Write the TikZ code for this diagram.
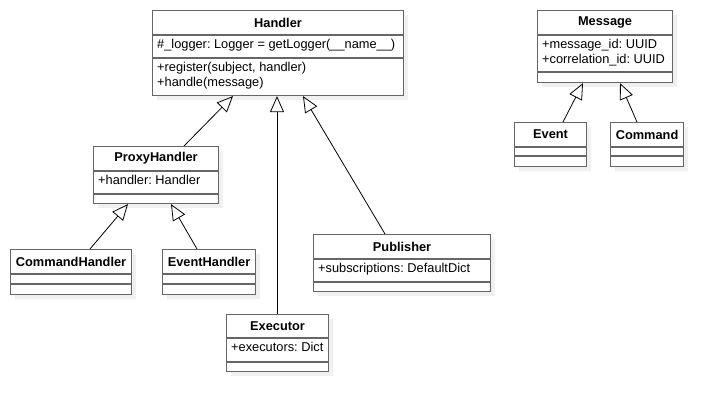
\documentclass[tikz,border=0pt]{standalone}
\usepackage{fontspec}
\setmainfont{Liberation Sans}
\usetikzlibrary{arrows.meta,shadows}
\frenchspacing
\newcommand\classbox[7]{% name, x, y, w, h, sep1, sep2
  \node[cls, minimum width=#4pt, minimum height=#5pt, anchor=north west] (#1) at (#2,#3) {};
  \draw[sepline] ([yshift=-#6pt]#1.north west) -- ([yshift=-#6pt]#1.north east);
  \draw[sepline] ([yshift=-#7pt]#1.north west) -- ([yshift=-#7pt]#1.north east);
}
\begin{document}
\begin{tikzpicture}[x=1pt,y=-1pt,
  cls/.style={draw=black!60, line width=1.1pt, fill=white, inner sep=0pt,
    drop shadow={shadow xshift=4pt, shadow yshift=-4pt, fill=black!6, opacity=1}},
  sepline/.style={draw=black!60, line width=1.1pt},
  ttl/.style={font=\fontsize{12.8}{15}\selectfont\bfseries\frenchspacing, inner sep=0pt},
  attr/.style={font=\fontsize{12.8}{15}\selectfont\frenchspacing, inner sep=0pt, align=left, anchor=north west},
  inh/.style={draw=black, line width=0.8pt, -{Triangle[open, length=16pt, width=14pt, line width=0.8pt]}}]
\useasboundingbox (0,0) rectangle (722,411);
\fill[white] (0,0) rectangle (722,411);

% Handler
\classbox{handler}{152}{10}{251}{85}{25}{48}
\node[ttl] at ([yshift=-12.5pt]handler.north) {Handler};
\node[attr] at ([xshift=5pt,yshift=-29pt]handler.north west) {\#\_logger: Logger = getLogger(\_\_name\_\_)};
\node[attr] at ([xshift=5pt,yshift=-52pt]handler.north west) {+register(subject, handler)\\+handle(message)};

% Message
\classbox{message}{537}{10}{135}{72}{25}{62}
\node[ttl] at ([yshift=-12.5pt]message.north) {Message};
\node[attr] at ([xshift=5pt,yshift=-29pt]message.north west) {+message\_id: UUID\\+correlation\_id: UUID};

% Event
\classbox{event}{514}{122}{72}{44}{25}{34}
\node[ttl] at ([yshift=-12.5pt]event.north) {Event};

% Command
\classbox{command}{610}{122}{73}{44}{25}{34}
\node[ttl] at ([yshift=-12.5pt]command.north) {Command};

% ProxyHandler
\classbox{proxy}{93}{146}{125}{57}{25}{48}
\node[ttl] at ([yshift=-12.5pt]proxy.north) {ProxyHandler};
\node[attr] at ([xshift=5pt,yshift=-29pt]proxy.north west) {+handler: Handler};

% CommandHandler
\classbox{cmdhandler}{10}{249}{121}{45}{25}{35}
\node[ttl] at ([yshift=-12.5pt]cmdhandler.north) {CommandHandler};

% EventHandler
\classbox{evhandler}{162}{249}{93}{45}{25}{35}
\node[ttl] at ([yshift=-12.5pt]evhandler.north) {EventHandler};

% Publisher
\classbox{publisher}{313}{234}{177}{57}{25}{48}
\node[ttl] at ([yshift=-12.5pt]publisher.north) {Publisher};
\node[attr] at ([xshift=5pt,yshift=-29pt]publisher.north west) {+subscriptions: DefaultDict};

% Executor
\classbox{executor}{226}{314}{102}{57}{24}{48}
\node[ttl] at ([yshift=-12pt]executor.north) {Executor};
\node[attr] at ([xshift=5pt,yshift=-28pt]executor.north west) {+executors: Dict};

% Inheritance connectors
\draw[inh] ([xshift=49pt]event.north west) -- ([xshift=46pt]message.south west);
\draw[inh] ([xshift=27pt]command.north west) -- ([xshift=83pt]message.south west);
\draw[inh] ([xshift=91pt]proxy.north west) -- ([xshift=81pt]handler.south west);
\draw[inh] ([xshift=51pt]executor.north west) -- ([xshift=125pt]handler.south west);
\draw[inh] ([xshift=72pt]publisher.north west) -- ([xshift=151pt]handler.south west);
\draw[inh] ([xshift=80pt]cmdhandler.north west) -- ([xshift=35pt]proxy.south west);
\draw[inh] ([xshift=35pt]evhandler.north west) -- ([xshift=78pt]proxy.south west);
\end{tikzpicture}
\end{document}
